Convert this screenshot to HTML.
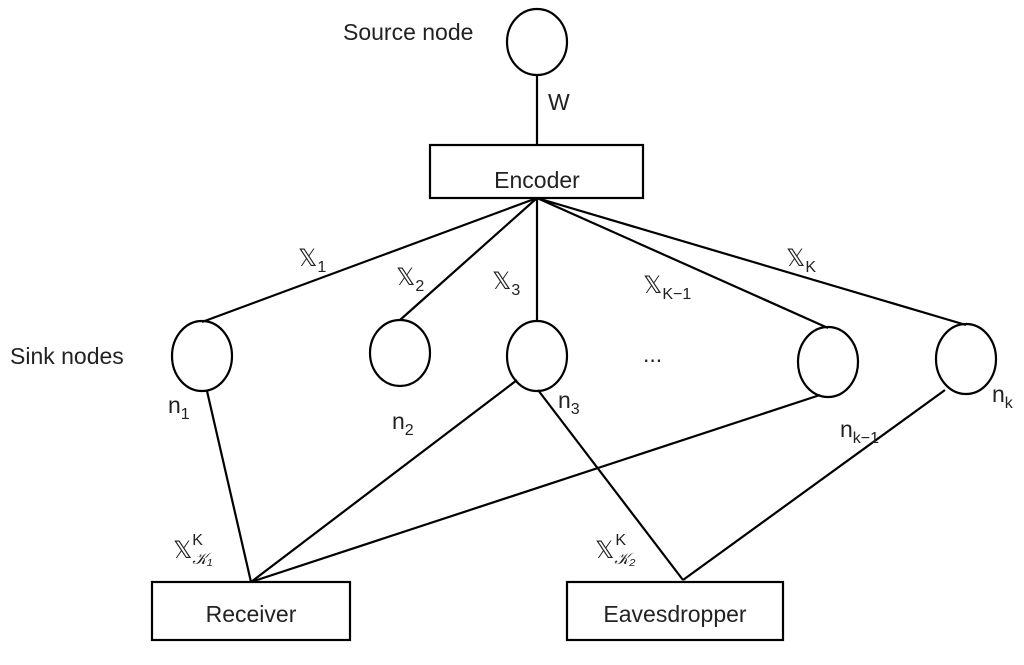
<!DOCTYPE html>
<html><head><meta charset="utf-8"><style>
html,body{margin:0;padding:0;background:#fff;width:1024px;height:665px;overflow:hidden}
svg text{font-family:"Liberation Sans","DejaVu Sans",sans-serif;fill:#222}
.bb{font-family:"DejaVu Sans",sans-serif;font-size:24px}
</style></head><body>
<svg width="1024" height="665" viewBox="0 0 1024 665" xmlns="http://www.w3.org/2000/svg">
<g stroke="#000" stroke-width="2.2" fill="none">
<ellipse cx="537" cy="42" rx="30" ry="33"/>
<line x1="537" y1="75" x2="537" y2="145"/>
<rect x="430" y="145" width="213" height="53"/>
<line x1="537" y1="198" x2="202" y2="322"/>
<line x1="537" y1="198" x2="400" y2="320"/>
<line x1="537" y1="198" x2="537" y2="322"/>
<line x1="537" y1="198" x2="828" y2="328"/>
<line x1="537" y1="198" x2="966" y2="325"/>
<ellipse cx="202" cy="356" rx="30" ry="35"/>
<ellipse cx="400" cy="353" rx="30" ry="33"/>
<ellipse cx="537" cy="356" rx="30" ry="35"/>
<ellipse cx="828" cy="362" rx="30" ry="35"/>
<ellipse cx="966" cy="359" rx="30" ry="35"/>
<line x1="207" y1="391" x2="251" y2="582"/>
<line x1="517" y1="380" x2="251" y2="582"/>
<line x1="820" y1="395" x2="251" y2="582"/>
<line x1="538" y1="390" x2="683" y2="580"/>
<line x1="945" y1="390" x2="683" y2="580"/>
<rect x="152" y="582" width="198" height="58"/>
<rect x="567" y="582" width="216" height="58"/>
</g>
<g font-size="23">
<text x="343" y="40">Source node</text>
<text x="548" y="110">W</text>
<text x="537" y="188" text-anchor="middle">Encoder</text>
<text x="10" y="364">Sink nodes</text>
<text x="251" y="622" text-anchor="middle">Receiver</text>
<text x="675" y="622" text-anchor="middle">Eavesdropper</text>
<text x="298" y="266"><tspan class="bb">𝕏</tspan><tspan font-size="16" dy="6">1</tspan></text>
<text x="396" y="285"><tspan class="bb">𝕏</tspan><tspan font-size="16" dy="6">2</tspan></text>
<text x="492" y="289"><tspan class="bb">𝕏</tspan><tspan font-size="16" dy="6">3</tspan></text>
<text x="643" y="293"><tspan class="bb">𝕏</tspan><tspan font-size="16" dy="6">K−1</tspan></text>
<text x="786" y="266"><tspan class="bb">𝕏</tspan><tspan font-size="16" dy="6">K</tspan></text>
<text x="168" y="413">n<tspan font-size="16" dy="6">1</tspan></text>
<text x="392" y="429">n<tspan font-size="16" dy="6">2</tspan></text>
<text x="558" y="408">n<tspan font-size="16" dy="6">3</tspan></text>
<text x="840" y="437">n<tspan font-size="16" dy="6">k−1</tspan></text>
<text x="992" y="402">n<tspan font-size="16" dy="6">k</tspan></text>
<text x="643" y="362">...</text>
<text x="173" y="558"><tspan class="bb">𝕏</tspan><tspan font-size="16" dy="6" font-style="italic">𝒦₁</tspan><tspan font-size="16" dx="-20" dy="-19">K</tspan></text>
<text x="595" y="558"><tspan class="bb">𝕏</tspan><tspan font-size="16" dy="6" font-style="italic">𝒦₂</tspan><tspan font-size="16" dx="-20" dy="-19">K</tspan></text>
</g>
</svg>
</body></html>
